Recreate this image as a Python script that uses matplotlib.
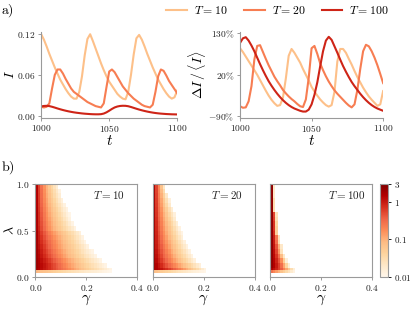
import numpy as np
import matplotlib

matplotlib.use("Agg")
import matplotlib.pyplot as plt  # noqa: E402
from matplotlib.colors import LogNorm  # noqa: E402
from matplotlib.ticker import NullLocator  # noqa: E402

plt.rcParams["mathtext.fontset"] = "cm"
plt.rcParams["font.family"] = ["DejaVu Serif"]

# ---- panel a): time series, sampled every 2 time units ----
T_SAMPLES = list(range(1000, 1101, 2))

I_T10 = [0.120, 0.112, 0.102, 0.091, 0.081, 0.071, 0.062, 0.053, 0.046, 0.039,
         0.033, 0.028, 0.025, 0.025, 0.035, 0.058, 0.089, 0.113, 0.120, 0.110,
         0.099, 0.088, 0.077, 0.067, 0.058, 0.050, 0.044, 0.038, 0.032, 0.028,
         0.025, 0.024, 0.035, 0.060, 0.090, 0.114, 0.119, 0.112, 0.102, 0.091,
         0.081, 0.071, 0.062, 0.053, 0.046, 0.039, 0.033, 0.028, 0.025, 0.027,
         0.037]
I_T20 = [0.013, 0.012, 0.013, 0.018, 0.040, 0.060, 0.068, 0.068, 0.062, 0.054,
         0.047, 0.040, 0.035, 0.032, 0.029, 0.026, 0.023, 0.020, 0.018, 0.016,
         0.014, 0.013, 0.012, 0.018, 0.042, 0.065, 0.068, 0.064, 0.057, 0.050,
         0.043, 0.038, 0.033, 0.029, 0.025, 0.022, 0.019, 0.016, 0.014, 0.013,
         0.012, 0.016, 0.035, 0.058, 0.068, 0.066, 0.059, 0.051, 0.045, 0.039,
         0.033]
I_T100 = [0.0135, 0.0142, 0.0144, 0.0140, 0.0130, 0.0118, 0.0105, 0.0093, 0.0082,
          0.0072, 0.0063, 0.0055, 0.0048, 0.0042, 0.0037, 0.0032, 0.0028, 0.0025,
          0.0022, 0.0020, 0.0019, 0.0019, 0.0021, 0.0030, 0.0048, 0.0072, 0.0098,
          0.0120, 0.0134, 0.0142, 0.0145, 0.0144, 0.0138, 0.0127, 0.0114, 0.0101,
          0.0089, 0.0078, 0.0068, 0.0059, 0.0051, 0.0044, 0.0038, 0.0033, 0.0029,
          0.0026, 0.0023, 0.0021, 0.0019, 0.0018, 0.0017]

DEV_T10 = [90, 80, 68, 56, 44, 32, 20, 6, -8, -22, -35, -46, -55, -62, -60, -40,
           10, 70, 88, 78, 65, 52, 35, 20, 5, -12, -24, -35, -45, -53, -60, -64,
           -60, -25, 55, 88, 88, 78, 62, 47, 30, 14, 0, -14, -26, -37, -46, -54,
           -62, -58, -23]
DEV_T20 = [-63, -67, -66, -50, -10, 60, 96, 98, 80, 62, 45, 30, 15, 3, -8, -20,
           -29, -37, -44, -50, -57, -63, -65, -45, 12, 90, 96, 75, 50, 32, 16, 2,
           -10, -21, -30, -38, -46, -54, -61, -66, -58, -20, 35, 82, 99, 95, 82,
           65, 45, 22, -2]
DEV_T100 = [104, 116, 119, 110, 97, 82, 65, 48, 32, 17, 3, -9, -20, -30, -39,
            -47, -54, -60, -65, -69, -72, -75, -77, -77, -72, -58, -33, 0, 42, 82,
            110, 120, 112, 95, 78, 60, 43, 28, 14, 1, -10, -20, -30, -39, -47,
            -54, -60, -65, -69, -72, -75]

SERIES_LABELS = ["10", "20", "100"]
SERIES_COLORS = [plt.cm.OrRd(0.35), plt.cm.OrRd(0.55), plt.cm.OrRd(0.78)]

# ---- panel b): heat maps, rows of lambda, columns of gamma (0.01 wide) ----
LAM_EDGES = [0.045, 0.075, 0.1, 0.15, 0.2, 0.25, 0.3, 0.35, 0.4, 0.45, 0.5,
             0.55, 0.6, 0.65, 0.7, 0.75, 0.8, 0.85, 0.9, 0.95, 1.0]
GAMMA_STEP = 0.01
N_GAMMA = 40

MAP_T10 = [
    [0.09, 0.08, 0.075, 0.07, 0.065, 0.06, 0.055, 0.05, 0.046, 0.042, 0.039, 0.036,
     0.033, 0.031, 0.029, 0.027, 0.025, 0.023, 0.022, 0.02, 0.019, 0.018, 0.017,
     0.016, 0.015, 0.014, 0.013, 0.012, 0.011, 0.0105],
    [1.8, 1.5, 1.25, 1.05, 0.9, 0.75, 0.62, 0.52, 0.43, 0.36, 0.3, 0.25, 0.21, 0.175,
     0.145, 0.12, 0.1, 0.084, 0.07, 0.059, 0.05, 0.042, 0.036, 0.031, 0.027, 0.023,
     0.02, 0.017, 0.014, 0.012],
    [2.0, 1.6, 1.3, 1.1, 0.9, 0.75, 0.6, 0.5, 0.4, 0.32, 0.26, 0.21, 0.17, 0.14,
     0.115, 0.095, 0.08, 0.066, 0.055, 0.046, 0.039, 0.033, 0.028, 0.024, 0.02,
     0.017, 0.014, 0.012],
    [2.0, 1.5, 1.2, 0.95, 0.78, 0.63, 0.5, 0.4, 0.32, 0.26, 0.21, 0.17, 0.14, 0.115,
     0.095, 0.078, 0.064, 0.053, 0.044, 0.037, 0.031, 0.026, 0.022, 0.018, 0.015,
     0.012],
    [1.9, 1.4, 1.05, 0.8, 0.62, 0.48, 0.38, 0.3, 0.24, 0.19, 0.155, 0.125, 0.1,
     0.083, 0.068, 0.056, 0.046, 0.038, 0.032, 0.026, 0.022, 0.018, 0.015, 0.012],
    [1.9, 1.3, 0.95, 0.7, 0.53, 0.41, 0.32, 0.25, 0.2, 0.16, 0.13, 0.105, 0.085,
     0.07, 0.057, 0.047, 0.039, 0.032, 0.026, 0.021, 0.017, 0.014, 0.012],
    [1.8, 1.2, 0.85, 0.62, 0.46, 0.35, 0.27, 0.21, 0.17, 0.135, 0.11, 0.09, 0.073,
     0.06, 0.049, 0.04, 0.033, 0.027, 0.022, 0.017, 0.013],
    [1.8, 1.1, 0.75, 0.55, 0.41, 0.31, 0.24, 0.19, 0.15, 0.12, 0.097, 0.079, 0.064,
     0.052, 0.042, 0.034, 0.027, 0.021, 0.016, 0.012],
    [1.7, 1.0, 0.68, 0.48, 0.35, 0.27, 0.21, 0.165, 0.13, 0.105, 0.085, 0.069,
     0.056, 0.045, 0.036, 0.029, 0.023, 0.018, 0.013],
    [1.7, 0.95, 0.6, 0.42, 0.3, 0.22, 0.17, 0.135, 0.108, 0.087, 0.07, 0.057, 0.046,
     0.037, 0.03, 0.024, 0.019, 0.014],
    [1.6, 0.85, 0.5, 0.33, 0.22, 0.16, 0.12, 0.092, 0.072, 0.057, 0.045, 0.036,
     0.029, 0.023, 0.018, 0.013],
    [1.6, 0.8, 0.47, 0.3, 0.2, 0.145, 0.108, 0.082, 0.063, 0.05, 0.039, 0.03,
     0.023, 0.017, 0.012],
    [1.6, 0.77, 0.44, 0.27, 0.18, 0.128, 0.095, 0.072, 0.055, 0.042, 0.032, 0.024,
     0.018, 0.013],
    [1.6, 0.74, 0.41, 0.25, 0.165, 0.115, 0.085, 0.063, 0.048, 0.036, 0.027, 0.02,
     0.014, 0.011],
    [1.55, 0.7, 0.38, 0.23, 0.15, 0.103, 0.074, 0.055, 0.041, 0.03, 0.022, 0.016,
     0.012],
    [1.5, 0.67, 0.35, 0.21, 0.135, 0.092, 0.065, 0.047, 0.034, 0.025, 0.018, 0.013],
    [1.5, 0.64, 0.33, 0.19, 0.122, 0.082, 0.057, 0.04, 0.029, 0.02, 0.014],
    [1.5, 0.62, 0.31, 0.18, 0.11, 0.073, 0.05, 0.034, 0.024, 0.016],
    [1.5, 0.6, 0.3, 0.17, 0.1, 0.066, 0.044, 0.03, 0.02, 0.013],
    [1.5, 0.58, 0.28, 0.16, 0.095, 0.06, 0.039, 0.025, 0.016],
]
MAP_T20 = [
    [0.08, 0.07, 0.06, 0.055, 0.05, 0.045, 0.04, 0.036, 0.032, 0.029, 0.026, 0.024,
     0.022, 0.02, 0.018, 0.016, 0.015, 0.014, 0.013, 0.012, 0.011],
    [2.0, 1.6, 1.3, 1.1, 0.9, 0.75, 0.6, 0.48, 0.38, 0.3, 0.23, 0.18, 0.14, 0.105,
     0.08, 0.06, 0.045, 0.034, 0.025, 0.018, 0.013],
    [2.1, 1.5, 1.1, 0.8, 0.6, 0.45, 0.34, 0.26, 0.2, 0.155, 0.12, 0.093, 0.072,
     0.056, 0.043, 0.033, 0.025, 0.019, 0.014],
    [2.1, 1.3, 0.9, 0.63, 0.45, 0.33, 0.24, 0.18, 0.135, 0.1, 0.076, 0.058, 0.044,
     0.034, 0.026, 0.019, 0.014],
    [2.0, 1.2, 0.78, 0.52, 0.36, 0.26, 0.19, 0.14, 0.1, 0.075, 0.056, 0.042, 0.032,
     0.024, 0.018, 0.013],
    [2.0, 1.1, 0.68, 0.45, 0.31, 0.22, 0.155, 0.11, 0.08, 0.059, 0.044, 0.033,
     0.025, 0.018, 0.013],
    [1.9, 1.0, 0.6, 0.39, 0.26, 0.18, 0.125, 0.09, 0.065, 0.048, 0.035, 0.026,
     0.019, 0.013],
    [1.9, 0.95, 0.55, 0.34, 0.22, 0.15, 0.105, 0.075, 0.054, 0.039, 0.028, 0.02,
     0.014],
    [1.9, 0.9, 0.5, 0.3, 0.19, 0.13, 0.088, 0.062, 0.044, 0.031, 0.022, 0.015],
    [1.8, 0.85, 0.46, 0.27, 0.17, 0.11, 0.075, 0.052, 0.036, 0.025, 0.017, 0.012],
    [1.8, 0.82, 0.42, 0.24, 0.15, 0.097, 0.065, 0.044, 0.03, 0.02, 0.013],
    [1.8, 0.78, 0.39, 0.22, 0.13, 0.085, 0.056, 0.037, 0.024, 0.015],
    [1.8, 0.75, 0.36, 0.2, 0.115, 0.072, 0.046, 0.029, 0.018],
    [1.8, 0.7, 0.33, 0.175, 0.1, 0.06, 0.037, 0.023, 0.014],
    [1.75, 0.67, 0.3, 0.155, 0.085, 0.049, 0.028, 0.016],
    [1.7, 0.64, 0.28, 0.135, 0.07, 0.037, 0.019],
    [1.7, 0.61, 0.25, 0.12, 0.058, 0.029, 0.014],
    [1.7, 0.58, 0.23, 0.1, 0.045, 0.02],
    [1.7, 0.56, 0.21, 0.085, 0.032],
    [1.7, 0.55, 0.2, 0.07, 0.022],
]
MAP_T100 = [
    [0.3, 0.2, 0.14, 0.1, 0.07, 0.05, 0.035, 0.025, 0.018, 0.013],
    [1.6, 1.2, 0.9, 0.6, 0.4, 0.22, 0.12, 0.06, 0.03, 0.015],
    [2.2, 1.5, 1.0, 0.6, 0.3, 0.12, 0.04, 0.015],
    [2.3, 1.4, 0.85, 0.45, 0.18, 0.05, 0.015],
    [2.3, 1.3, 0.7, 0.3, 0.08, 0.02],
    [2.3, 1.2, 0.55, 0.15, 0.025],
    [2.3, 1.1, 0.45, 0.1, 0.02],
    [2.3, 1.0, 0.3, 0.03],
    [2.3, 0.95, 0.25, 0.025],
    [2.3, 0.8, 0.05],
    [2.3, 0.7, 0.05],
    [2.3, 0.7, 0.04],
    [2.3, 0.6, 0.03],
    [2.3, 0.55, 0.025],
    [2.3, 0.03],
    [2.3, 0.03],
    [2.3, 0.03],
    [2.3, 0.02],
    [2.3, 0.02],
    [2.3, 0.02],
]
MAP_LABELS = ["10", "20", "100"]
CBAR_TICKS = [0.01, 0.1, 1, 3]
CBAR_LABELS = ["0.01", "0.1", "1", "3"]

GRAY = "#9a9a9a"
INK = "#222222"


def style_ticks(ax):
    ax.tick_params(which="both", colors=GRAY, labelcolor=INK, labelsize=6.8,
                   length=2.5, width=0.7, pad=1.5)
    for s in ax.spines.values():
        s.set_color(GRAY)
        s.set_linewidth(0.8)


def mlabels(vals):
    return [r"$%s$" % v for v in vals]


def fill_rows(rows):
    grid = np.full((len(rows), N_GAMMA), np.nan)
    for i, r in enumerate(rows):
        grid[i, :len(r)] = r
    return grid


fig = plt.figure(figsize=(4.16, 3.12), dpi=100)

# ---- a) prevalence and its relative deviation ----
ax1 = fig.add_axes([0.099, 0.623, 0.327, 0.276])
ax2 = fig.add_axes([0.577, 0.623, 0.344, 0.276])
lines = []
for vals, col, lab in zip([I_T10, I_T20, I_T100], SERIES_COLORS, SERIES_LABELS):
    (ln,) = ax1.plot(T_SAMPLES, vals, color=col, lw=1.5, label=r"$T = %s$" % lab)
    lines.append(ln)
for vals, col in zip([DEV_T10, DEV_T20, DEV_T100], SERIES_COLORS):
    ax2.plot(T_SAMPLES, vals, color=col, lw=1.5)

for ax in (ax1, ax2):
    ax.spines["top"].set_visible(False)
    ax.spines["right"].set_visible(False)
    style_ticks(ax)
    ax.set_xlim(1000, 1100)
    ax.set_xticks([1000, 1050, 1100])
    ax.set_xticklabels(mlabels([1000, 1050, 1100]))
    ax.set_xlabel(r"$t$", fontsize=11, labelpad=0)

ax1.set_ylim(-0.003, 0.124)
ax1.set_yticks([0, 0.06, 0.12])
ax1.set_yticklabels(mlabels(["0.00", "0.06", "0.12"]))
ax1.set_ylabel(r"$I$", fontsize=10)
ax1.yaxis.set_label_coords(-0.175, 0.5)

ax2.set_ylim(-93, 134)
ax2.set_yticks([-90, 20, 130])
ax2.set_yticklabels([r"$-90\%$", r"$20\%$", r"$130\%$"])
ax2.set_ylabel(r"$\Delta I\,/\,\langle I\rangle$", fontsize=10)
ax2.yaxis.set_label_coords(-0.225, 0.5)

fig.legend(handles=lines, loc="center", bbox_to_anchor=(0.667, 0.967), ncol=3,
           frameon=False, fontsize=8.5, handlelength=1.75, handletextpad=0.6,
           columnspacing=1.4, borderaxespad=0)

# ---- b) heat maps ----
cmap = plt.cm.OrRd.copy()
cmap.set_bad("white")
norm = LogNorm(vmin=0.01, vmax=3)
gamma_edges = np.arange(N_GAMMA + 1) * GAMMA_STEP
lefts = [0.085, 0.367, 0.649]
mesh = None
for k, (rows, lab) in enumerate(zip([MAP_T10, MAP_T20, MAP_T100], MAP_LABELS)):
    ax = fig.add_axes([lefts[k], 0.1122, 0.245, 0.298])
    grid = np.ma.masked_invalid(fill_rows(rows))
    mesh = ax.pcolormesh(gamma_edges, LAM_EDGES, grid, cmap=cmap, norm=norm,
                         shading="flat", edgecolors="none", antialiased=False)
    ax.set_xlim(0, 0.4)
    ax.set_ylim(0, 1)
    style_ticks(ax)
    ax.set_xticks([0, 0.2, 0.4])
    ax.set_xticklabels(mlabels(["0.0", "0.2", "0.4"]))
    ax.set_xlabel(r"$\gamma$", fontsize=11, labelpad=0)
    if k == 0:
        ax.set_yticks([0, 0.5, 1.0])
        ax.set_yticklabels(mlabels(["0.0", "0.5", "1.0"]))
        ax.set_ylabel(r"$\lambda$", fontsize=10)
        ax.yaxis.set_label_coords(-0.175, 0.5)
    else:
        ax.set_yticks([])
    ax.text(0.57, 0.88, r"$T = %s$" % lab, transform=ax.transAxes,
            fontsize=8, ha="left", va="center", color=INK)

cax = fig.add_axes([0.9135, 0.1122, 0.0192, 0.298])
cb = fig.colorbar(mesh, cax=cax, ticks=CBAR_TICKS)
cb.ax.yaxis.set_minor_locator(NullLocator())
cb.ax.set_yticklabels(mlabels(CBAR_LABELS))
cb.ax.tick_params(labelsize=6.5, length=2.5, width=0.7, pad=1.5, colors=INK)
cb.outline.set_edgecolor(GRAY)
cb.outline.set_linewidth(0.8)

fig.text(0.003, 0.965, r"$\mathrm{a)}$", fontsize=10, va="center", ha="left")
fig.text(0.003, 0.462, r"$\mathrm{b)}$", fontsize=10, va="center", ha="left")

fig.savefig("out.png", dpi=100)
